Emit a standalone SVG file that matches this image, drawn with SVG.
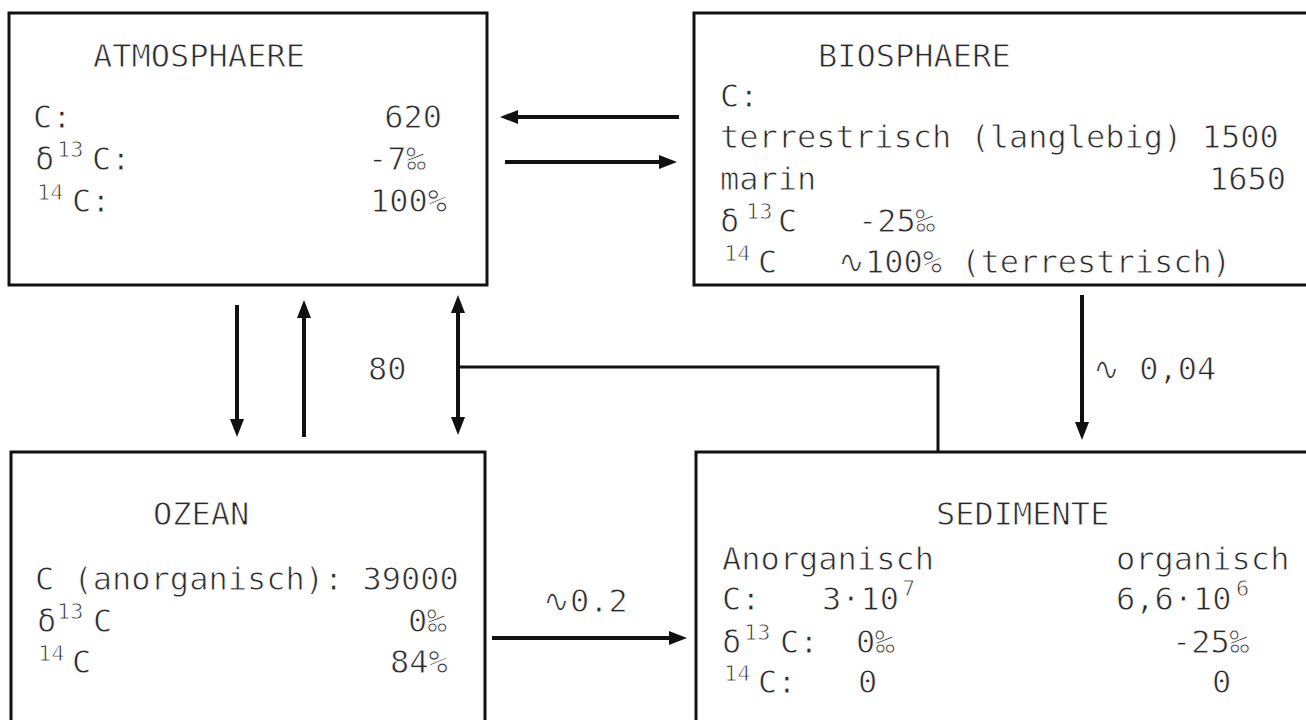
<svg xmlns="http://www.w3.org/2000/svg" width="1306" height="720" viewBox="0 0 1306 720">
<style>
  .box { fill: #fff; stroke: #111; stroke-width: 3; }
  .t { font-family: "DejaVu Sans Mono", "Liberation Mono", monospace; font-size: 32px; fill: #2a2a2a; stroke: #fff; stroke-width: 0.8px; }
  .s { font-size: 22px; }
  .arr { stroke: #111; stroke-width: 4; fill: none; }
  .ln { stroke: #111; stroke-width: 3; fill: none; }
</style>
<defs>
  <marker id="ah" viewBox="0 0 18 14" refX="6" refY="7" markerWidth="18" markerHeight="14" markerUnits="userSpaceOnUse" orient="auto-start-reverse">
    <path d="M0,0 L18,7 L0,14 Z" fill="#111"/>
  </marker>
</defs>
<rect width="1306" height="720" fill="#fff"/>

<g id="atmosphaere">
  <rect class="box" x="9" y="13" width="478" height="272"/>
  <text class="t" x="93" y="67">ATMOSPHAERE</text>
  <text class="t" x="33" y="128">C:</text>
  <text class="t" x="442" y="128" text-anchor="end">620</text>
  <text class="t"><tspan x="35" y="170">δ</tspan><tspan class="s" x="57" y="157">13</tspan><tspan x="92" y="170">C:</tspan></text>
  <text class="t" x="368" y="170">-7‰</text>
  <text class="t"><tspan class="s" x="37" y="200">14</tspan><tspan x="72" y="212">C:</tspan></text>
  <text class="t" x="370" y="212">100%</text>
</g>

<g id="biosphaere">
  <rect class="box" x="694" y="13" width="620" height="272"/>
  <text class="t" x="818" y="67">BIOSPHAERE</text>
  <text class="t" x="720" y="107">C:</text>
  <text class="t" x="720" y="148">terrestrisch (langlebig) 1500</text>
  <text class="t" x="720" y="190">marin</text>
  <text class="t" x="1286" y="190" text-anchor="end">1650</text>
  <text class="t"><tspan x="720" y="232">δ</tspan><tspan class="s" x="746" y="219">13</tspan><tspan x="778" y="232">C</tspan></text>
  <text class="t" x="858" y="232">-25‰</text>
  <text class="t"><tspan class="s" x="724" y="261">14</tspan><tspan x="758" y="273">C</tspan></text>
  <text class="t" x="838" y="273">∿100% (terrestrisch)</text>
</g>

<g id="ozean">
  <rect class="box" x="11" y="452" width="474" height="280"/>
  <text class="t" x="153" y="525">OZEAN</text>
  <text class="t" x="35" y="590">C (anorganisch): 39000</text>
  <text class="t"><tspan x="37" y="632">δ</tspan><tspan class="s" x="57" y="619">13</tspan><tspan x="93" y="632">C</tspan></text>
  <text class="t" x="408" y="632">0‰</text>
  <text class="t"><tspan class="s" x="38" y="661">14</tspan><tspan x="72" y="673">C</tspan></text>
  <text class="t" x="390" y="673">84%</text>
</g>

<g id="sedimente">
  <rect class="box" x="696" y="452" width="620" height="280"/>
  <text class="t" x="936" y="525">SEDIMENTE</text>
  <text class="t" x="722" y="570">Anorganisch</text>
  <text class="t" x="1116" y="570">organisch</text>
  <text class="t" x="722" y="610">C:</text>
  <text class="t"><tspan x="822" y="610">3·10</tspan><tspan class="s" x="902" y="596">7</tspan></text>
  <text class="t"><tspan x="1116" y="610">6,6·10</tspan><tspan class="s" x="1236" y="596">6</tspan></text>
  <text class="t"><tspan x="722" y="653">δ</tspan><tspan class="s" x="744" y="640">13</tspan><tspan x="780" y="653">C:</tspan></text>
  <text class="t" x="856" y="653">0‰</text>
  <text class="t" x="1172" y="653">-25‰</text>
  <text class="t"><tspan class="s" x="724" y="681">14</tspan><tspan x="758" y="693">C:</tspan></text>
  <text class="t" x="858" y="693">0</text>
  <text class="t" x="1212" y="693">0</text>
</g>

<g id="connectors">
  <path class="arr" d="M679 117 L512 117" marker-end="url(#ah)"/>
  <path class="arr" d="M505 162 L665 162" marker-end="url(#ah)"/>
  <path class="arr" d="M492 638 L675 638" marker-end="url(#ah)"/>
  <path class="arr" d="M237 305 L237 425" marker-end="url(#ah)"/>
  <path class="arr" d="M304 437 L304 312" marker-end="url(#ah)"/>
  <path class="arr" d="M458 307 L458 423" marker-start="url(#ah)" marker-end="url(#ah)"/>
  <path class="arr" d="M1082 295 L1082 428" marker-end="url(#ah)"/>
  <path class="ln" d="M458 367 H938 V452"/>
  <text class="t" x="368" y="380">80</text>
  <text class="t" x="1093" y="380">∿ 0,04</text>
  <text class="t" x="543" y="612">∿0.2</text>
</g>
</svg>
